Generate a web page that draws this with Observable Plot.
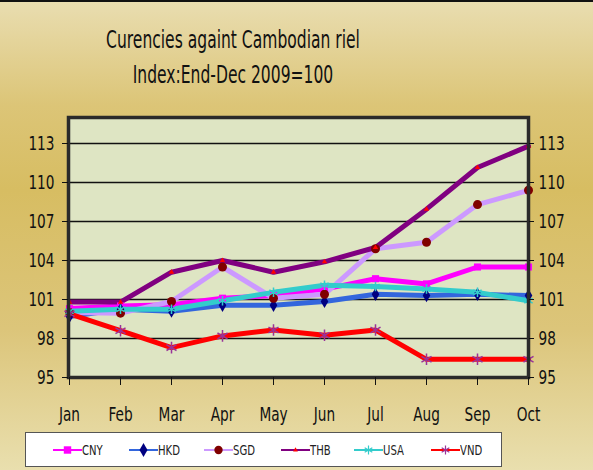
<!DOCTYPE html>
<html>
<head>
<meta charset="utf-8">
<script src="https://cdn.jsdelivr.net/npm/d3@7"></script>
<script src="https://cdn.jsdelivr.net/npm/@observablehq/plot@0.6"></script>
<style>
  body { margin: 0; }
  #wrap {
    position: relative; width: 593px; height: 470px; overflow: hidden;
    background: linear-gradient(180deg, #e9ddb0 0%, #dcc577 22%, #d7bd62 40%, #dcc57a 70%, #e9dfae 100%);
    border-top: 2px solid #111; box-sizing: border-box;
    font-family: "DejaVu Sans Condensed", sans-serif; font-stretch: condensed;
  }
  #title {
    position: absolute; left: 0; top: 21px; width: 466px; text-align: center;
    font-size: 24px; line-height: 35px; color: #111;
    transform: scaleX(0.72); transform-origin: 233px 0;
  }
  #chart { position: absolute; left: 0; top: 96px; }
  #legend {
    position: absolute; left: 25px; top: 430px; width: 477px; height: 35px;
    background: #fff; border: 1px solid #555; box-sizing: border-box;
  }
  .item { position: absolute; top: 0; height: 33px; display: flex; align-items: center; font-size: 14px; color: #222; }
  .item svg { display: block; }
  .item span { display: inline-block; transform: scaleX(0.8); transform-origin: 0 50%; }
</style>
</head>
<body>
<div id="wrap">
  <div id="title">Curencies againt Cambodian riel<br>Index:End-Dec 2009=100</div>
  <div id="chart"></div>
  <div id="legend"></div>
</div>
<script>
const months = ["Jan","Feb","Mar","Apr","May","Jun","Jul","Aug","Sep","Oct"];
const cny = [100.3, 100.5, 100.6, 101.1, 101.3, 101.8, 102.6, 102.2, 103.5, 103.5];
const hkd = [99.7, 100.25, 100.1, 100.55, 100.55, 100.85, 101.4, 101.3, 101.4, 101.3];
const sgd = [100.0, 99.95, 100.85, 103.5, 101.1, 101.4, 104.9, 105.4, 108.3, 109.4];
const thb = [100.8, 100.8, 103.1, 104.0, 103.1, 103.9, 105.0, 107.95, 111.15, 112.8];
const usa = [100.1, 100.25, 100.25, 100.9, 101.55, 102.1, 102.0, 101.8, 101.55, 100.9];
const vnd = [99.9, 98.6, 97.3, 98.2, 98.65, 98.25, 98.65, 96.4, 96.4, 96.4];
const yTicks = [95, 98, 101, 104, 107, 110, 113];

const seriesNames = ["CNY","HKD","SGD","THB","USA","VND"];
const seriesValues = [cny, hkd, sgd, thb, usa, vnd];
const styles = {
  CNY: {line: "#ff00ff", symbol: "square", fill: "#ff00ff", stroke: "none", r: 4},
  HKD: {line: "#3366dd", symbol: "diamond", fill: "#000080", stroke: "none", r: 4},
  SGD: {line: "#cc99ff", symbol: "circle", fill: "#800000", stroke: "none", r: 4.5},
  THB: {line: "#800080", symbol: "triangle", fill: "#ff0000", stroke: "none", r: 2},
  USA: {line: "#33cccc", symbol: "asterisk", fill: "none", stroke: "#33cccc", r: 4.5},
  VND: {line: "#ff0000", symbol: "asterisk", fill: "none", stroke: "#993399", r: 5.5}
};
const data = [];
seriesNames.forEach((s, i) => months.forEach((m, j) => data.push({series: s, month: m, value: seriesValues[i][j]})));

const font = '"DejaVu Sans Condensed", sans-serif';
const marks = [
  Plot.frame({fill: "#dee5c3"}),
  Plot.ruleY(yTicks, {stroke: "#111", strokeWidth: 1.3}),
];
seriesNames.forEach(s => {
  const st = styles[s];
  const d = data.filter(r => r.series === s);
  marks.push(Plot.line(d, {x: "month", y: "value", stroke: st.line, strokeWidth: 5, strokeLinejoin: "round"}));
});
seriesNames.forEach(s => {
  const st = styles[s];
  const d = data.filter(r => r.series === s);
  marks.push(Plot.dot(d, {x: "month", y: "value", symbol: () => st.symbol, r: st.r, fill: st.fill, stroke: st.stroke, strokeWidth: 1.5}));
});
marks.push(
  Plot.frame({stroke: "#2a2a2a", strokeWidth: 3.5}),
  Plot.axisY(yTicks, {anchor: "left", tickSize: 6, tickPadding: 8, fontSize: 20, label: null, stroke: "#111"}),
  Plot.axisY(yTicks, {anchor: "right", tickSize: 5, tickPadding: 5, fontSize: 20, label: null, stroke: "#111"}),
  Plot.axisX({anchor: "bottom", tickSize: 8, tickPadding: 21, fontSize: 20, label: null, stroke: "#111"})
);

const chart = Plot.plot({
  width: 593, height: 334,
  marginLeft: 68, marginRight: 65, marginTop: 19, marginBottom: 55,
  x: {type: "point", domain: months, padding: 0},
  y: {domain: [95, 115]},
  style: {background: "transparent", fontFamily: font, color: "#111"},
  marks
});
// narrow the tick label glyphs horizontally (the reference uses a narrow face)
d3.select(chart).selectAll("text").each(function() {
  const el = d3.select(this);
  const x = +el.attr("x") || 0, y = +el.attr("y") || 0;
  const tr = el.attr("transform") || "";
  el.attr("transform", `${tr} translate(${x},${y}) scale(0.76,1) translate(${-x},${-y})`);
});
document.getElementById("chart").appendChild(chart);

// legend
const legend = document.getElementById("legend");
const lx = [27, 103, 178, 255, 328, 405];
const symMap = {square: d3.symbolSquare, diamond: d3.symbolDiamond, circle: d3.symbolCircle, triangle: d3.symbolTriangle, asterisk: d3.symbolAsterisk};
seriesNames.forEach((s, i) => {
  const st = styles[s];
  const div = document.createElement("div");
  div.className = "item";
  div.style.left = lx[i] + "px";
  const svg = d3.create("svg").attr("width", 29).attr("height", 14);
  svg.append("line").attr("x1", 0).attr("x2", 29).attr("y1", 7).attr("y2", 7).attr("stroke", st.line).attr("stroke-width", 2);
  const size = s === "THB" ? 10 : 55;
  svg.append("path").attr("transform", "translate(14.5,7)")
    .attr("d", d3.symbol(symMap[st.symbol], size)())
    .attr("fill", st.fill).attr("stroke", st.stroke).attr("stroke-width", 1.2);
  div.appendChild(svg.node());
  const t = document.createElement("span");
  t.textContent = s;
  div.appendChild(t);
  legend.appendChild(div);
});
</script>
</body>
</html>
